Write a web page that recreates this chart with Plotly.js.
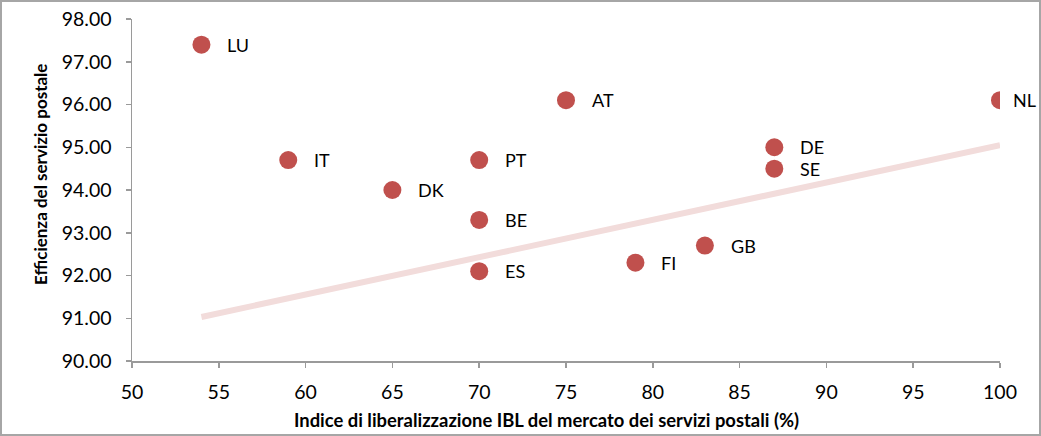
<!DOCTYPE html>
<html>
<head>
<meta charset="utf-8">
<script src="https://cdn.plot.ly/plotly-3.0.1.min.js"></script>
<style>
  html, body { margin: 0; padding: 0; background: #fff; }
  #wrap { position: relative; width: 1041px; height: 436px; }
  #chart { width: 1041px; height: 436px; }
  #frame { position: absolute; left: 0; top: 0; width: 1041px; height: 436px; box-sizing: border-box; border: 2px solid #a6a6a6; pointer-events: none; }
</style>
</head>
<body>
<div id="wrap"><div id="chart"></div><div id="frame"></div></div>
<script>
const countries = ["LU", "IT", "DK", "PT", "BE", "ES", "AT", "FI", "GB", "DE", "SE", "NL"];
const liberalization = [54, 59, 65, 70, 70, 70, 75, 79, 83, 87, 87, 100];
const efficiency = [97.4, 94.7, 94.0, 94.7, 93.3, 92.1, 96.1, 92.3, 92.7, 95.0, 94.5, 96.1];
const trendX = [54, 100];
const trendY = [91.03, 95.05];
const xTicks = [50, 55, 60, 65, 70, 75, 80, 85, 90, 95, 100];
const yTicks = [90, 91, 92, 93, 94, 95, 96, 97, 98];
const xTitle = "Indice di liberalizzazione IBL del mercato dei servizi postali (%)";
const yTitle = "Efficienza del servizio postale";

const FONT = "Lato, 'Open Sans', sans-serif";

const traces = [
  {
    x: trendX, y: trendY, type: "scatter", mode: "lines",
    line: { color: "#F2DCDB", width: 6 }, hoverinfo: "skip", showlegend: false
  },
  {
    x: liberalization, y: efficiency, type: "scatter", mode: "markers",
    marker: { color: "#C0504D", size: 18, line: { width: 0 } },
    text: countries, showlegend: false
  }
];

const annotations = countries.map((c, i) => ({
  x: liberalization[i], y: efficiency[i], xref: "x", yref: "y",
  text: c, showarrow: false, xanchor: "left", yanchor: "middle",
  xshift: liberalization[i] >= 100 ? 11 : 24, yshift: 0,
  font: { family: FONT, size: 18, color: "#000" }
}));

annotations.push({
  xref: "paper", yref: "paper", x: 0.478, y: -0.1725,
  text: "<b>" + xTitle + "</b>", showarrow: false, xanchor: "center", yanchor: "middle",
  font: { family: FONT, size: 18.4, color: "#000" }
});
annotations.push({
  xref: "paper", yref: "paper", x: -0.1048, y: 0.544,
  text: "<b>" + yTitle + "</b>", showarrow: false, xanchor: "center", yanchor: "middle",
  textangle: -90,
  font: { family: FONT, size: 17, color: "#000" }
});

const layout = {
  width: 1041, height: 436,
  margin: { l: 132, r: 41, t: 19, b: 75 },
  paper_bgcolor: "#fff", plot_bgcolor: "#fff",
  font: { family: FONT, size: 19, color: "#000" },
  xaxis: {
    range: [50, 100], tickvals: xTicks, ticktext: xTicks.map(String),
    showgrid: false, zeroline: false, showline: true, linecolor: "#9a9a9a", linewidth: 1.5,
    ticks: "outside", ticklen: 5, tickcolor: "#9a9a9a", tickwidth: 1.5,
    ticklabelstandoff: 8,
    tickfont: { family: FONT, size: 19.5, color: "#000" }
  },
  yaxis: {
    range: [90, 98], tickvals: yTicks, tickformat: ".2f",
    showgrid: false, zeroline: false, showline: true, linecolor: "#9a9a9a", linewidth: 1.5,
    ticks: "outside", ticklen: 5, tickcolor: "#9a9a9a", tickwidth: 1.5,
    ticklabelstandoff: 10,
    tickfont: { family: FONT, size: 19.5, color: "#000" }
  },
  annotations: annotations,
  showlegend: false
};

Plotly.newPlot("chart", traces, layout, { displayModeBar: false, staticPlot: true });
</script>
</body>
</html>
